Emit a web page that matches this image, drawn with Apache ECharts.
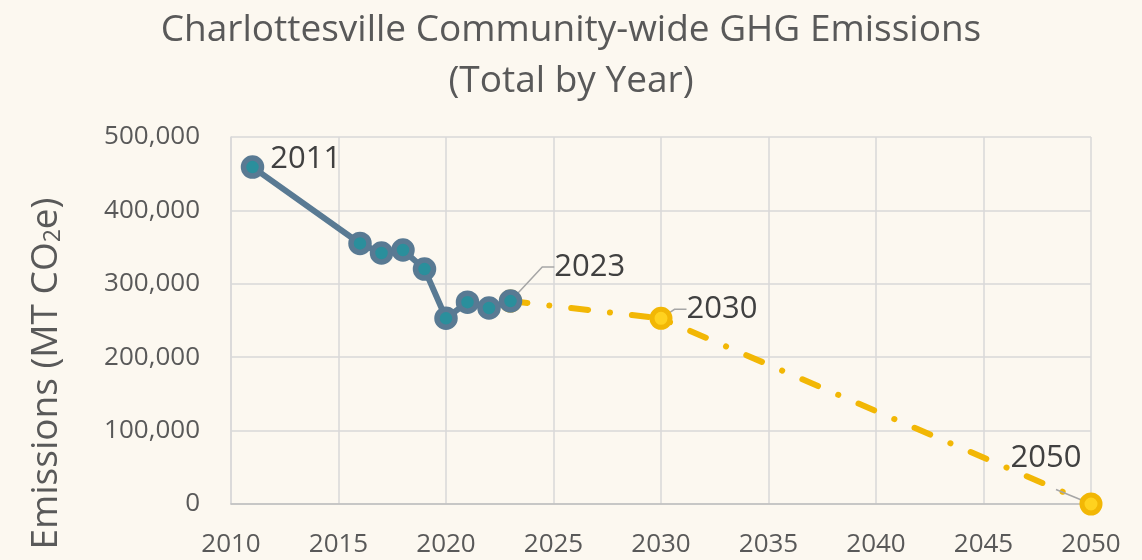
<!DOCTYPE html>
<html><head><meta charset="utf-8">
<script src="https://cdn.jsdelivr.net/npm/echarts@6/dist/echarts.min.js"></script>
<style>html,body{margin:0;padding:0;background:#FCF8F0;}#c{width:1142px;height:560px;}</style>
</head><body><div id="c"></div>
<script>
const histYears = [2011, 2016, 2017, 2018, 2019, 2020, 2021, 2022, 2023];
const histValues = [459000, 355000, 342000, 346000, 320000, 253000, 275000, 267000, 276500];
const targetYears = [2023, 2030, 2050];
const targetValues = [276500, 253000, 0];
const labeledYears = [2011, 2023, 2030, 2050];

const chart = echarts.init(document.getElementById('c'));
const fontFam = '"Open Sans", "Noto Sans", sans-serif';
const labelCfg = {
  2011: {position: 'right', distance: 6, dx: 0, dy: -8, len2: 12, pad: 0},
  2023: {position: 'right', distance: 0, dx: 32, dy: -34, len2: 12, pad: 0},
  2030: {position: 'right', distance: 0, dx: 14, dy: -9, len2: 12, pad: 0},
  2050: {position: 'top', distance: 0, dx: -35, dy: -3, len2: 0, pad: [0, 20, 16, 0]}
};
function mk(year, val, isLabeled) {
  const d = {value: [year, val]};
  if (isLabeled) {
    const c = labelCfg[year];
    d.label = {show: true, formatter: String(year), position: c.position, distance: c.distance,
      fontSize: 31, color: '#404040', fontFamily: fontFam, padding: c.pad,
      backgroundColor: 'rgba(0,0,0,0)'};
    d.labelLine = {show: year !== 2011, lineStyle: {color: '#A6A6A6', width: 1.5}, length2: c.len2};
    d._dx = c.dx; d._dy = c.dy;
  }
  return d;
}
const histData = histYears.map((y, i) => mk(y, histValues[i], labeledYears.includes(y)));
const targData = targetYears.map((y, i) => mk(y, targetValues[i], y !== 2023 && labeledYears.includes(y)));
chart.setOption({
  backgroundColor: '#FCF8F0',
  animation: false,
  title: {
    text: 'Charlottesville Community-wide GHG Emissions\n(Total by Year)',
    left: 'center', top: 0,
    textStyle: {fontSize: 37, fontWeight: 'normal', color: '#595959', fontFamily: fontFam, lineHeight: 51}
  },
  grid: {left: 231, right: 51, top: 137, bottom: 56},
  xAxis: {
    type: 'value', min: 2010, max: 2050, interval: 5,
    axisLine: {show: true, lineStyle: {color: '#BFBFBF', width: 1.5}},
    axisTick: {show: false},
    splitLine: {show: true, lineStyle: {color: '#D9D9D9', width: 1.5}},
    axisLabel: {fontSize: 26, color: '#595959', margin: 28, fontFamily: fontFam, formatter: v => String(v)}
  },
  yAxis: {
    type: 'value', min: 0, max: 500000, interval: 100000,
    axisLine: {show: true, lineStyle: {color: '#D9D9D9', width: 1.5}},
    axisTick: {show: false},
    splitLine: {show: true, lineStyle: {color: '#D9D9D9', width: 1.5}},
    axisLabel: {fontSize: 26, color: '#595959', margin: 31, fontFamily: fontFam,
      formatter: v => v.toLocaleString('en-US')},
    name: 'Emissions (MT CO{sub|2}e)',
    nameLocation: 'middle', nameRotate: 90, nameGap: 166,
    nameTextStyle: {fontSize: 37, color: '#595959', fontFamily: fontFam, padding: [0, 106, 0, 0],
      rich: {sub: {fontSize: 23, color: '#595959', fontFamily: fontFam, verticalAlign: 'bottom', padding: [15, 0, 0, 0]}}}
  },
  series: [
    {
      type: 'line', data: targData, z: 2,
      symbol: 'circle', symbolSize: 18,
      itemStyle: {color: '#FFD21F', borderColor: '#F2B705', borderWidth: 5},
      lineStyle: {color: '#F2B705', width: 6, type: [17, 22, 0.1, 22], cap: 'round'},
      labelLayout: p => { const d = targData[p.dataIndex]; return d && d._dx !== undefined ? {dx: d._dx, dy: d._dy} : {}; }
    },
    {
      type: 'line', data: histData, z: 3,
      symbol: 'circle', symbolSize: 18,
      itemStyle: {color: '#2A8F9C', borderColor: '#597A93', borderWidth: 5.5},
      lineStyle: {color: '#597A93', width: 6},
      labelLayout: p => { const d = histData[p.dataIndex]; return d && d._dx !== undefined ? {dx: d._dx, dy: d._dy} : {}; }
    }
  ]
});
</script></body></html>
